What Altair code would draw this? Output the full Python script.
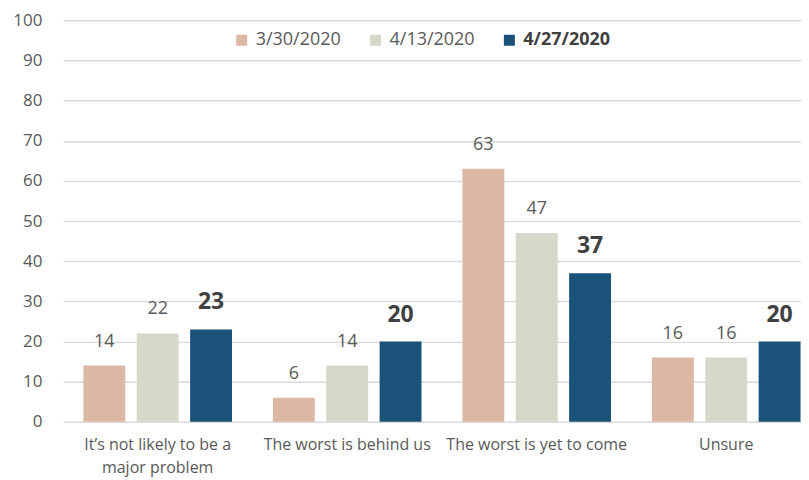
import altair as alt
import pandas as pd

categories = [
    "It’s not likely to be a major problem",
    "The worst is behind us",
    "The worst is yet to come",
    "Unsure",
]
series_names = ["3/30/2020", "4/13/2020", "4/27/2020"]
s_0330 = [14, 6, 63, 16]
s_0413 = [22, 14, 47, 16]
s_0427 = [23, 20, 37, 20]
colors = ["#DDB8A5", "#D7D8CA", "#1B5279"]
y_ticks = list(range(0, 101, 10))

rows = []
for name, vals in zip(series_names, [s_0330, s_0413, s_0427]):
    for c, v in zip(categories, vals):
        rows.append({"category": c, "series": name, "value": v})
df = pd.DataFrame(rows)

FONT = "Open Sans"
GRAY = "#595959"
DARK = "#404040"

x_enc = alt.X(
    "category:N",
    sort=categories,
    scale=alt.Scale(range=[2, 761], paddingInner=0, paddingOuter=0),
    axis=alt.Axis(
        title=None,
        labelAngle=0,
        domain=False,
        ticks=False,
        tickSize=0,
        grid=False,
        labelFont=FONT,
        labelFontSize=16,
        labelColor=GRAY,
        labelPadding=15,
        labelLineHeight=23,
        labelBaseline="top",
        labelLimit=400,
        labelExpr="datum.label == 'It’s not likely to be a major problem' ? ['It’s not likely to be a', 'major problem'] : datum.label",
    ),
)
xoff_enc = alt.XOffset(
    "series:N",
    sort=series_names,
    scale=alt.Scale(paddingInner=0.215, paddingOuter=0.383),
)
y_enc = alt.Y(
    "value:Q",
    scale=alt.Scale(domain=[0, 100]),
    axis=alt.Axis(
        title=None,
        values=y_ticks,
        domain=False,
        ticks=False,
        tickSize=0,
        grid=True,
        gridColor="#D9D9D9",
        gridWidth=1.5,
        labelFont=FONT,
        labelFontSize=17,
        labelColor=GRAY,
        labelPadding=19,
    ),
)

bars = alt.Chart(df).mark_bar().encode(
    x=x_enc,
    xOffset=xoff_enc,
    y=y_enc,
    color=alt.Color(
        "series:N",
        sort=series_names,
        scale=alt.Scale(domain=series_names, range=colors),
        legend=alt.Legend(
            title=None,
            orient="none",
            direction="horizontal",
            legendX=172,
            legendY=11,
            padding=0,
            symbolType="square",
            symbolSize=121,
            symbolStrokeWidth=0,
            symbolOpacity=1,
            labelFont=FONT,
            labelFontSize=18,
            labelColor=alt.ExprRef(expr="datum.label == '4/27/2020' ? '#404040' : '#595959'"),
            labelFontWeight=alt.ExprRef(expr="datum.label == '4/27/2020' ? 'bold' : 'normal'"),
            labelOffset=5,
            columnPadding=25,
        ),
    ),
)

labels_normal = alt.Chart(df).transform_filter(
    alt.datum.series != "4/27/2020"
).mark_text(
    font=FONT, fontSize=18, color=GRAY, baseline="middle", dy=-24
).encode(
    x=alt.X("category:N", sort=categories),
    xOffset=alt.XOffset("series:N", sort=series_names),
    y="value:Q",
    text="value:Q",
)

labels_bold = alt.Chart(df).transform_filter(
    alt.datum.series == "4/27/2020"
).mark_text(
    font=FONT, fontSize=23, fontWeight="bold", color=DARK, baseline="middle", dy=-27
).encode(
    x=alt.X("category:N", sort=categories),
    xOffset=alt.XOffset("series:N", sort=series_names),
    y="value:Q",
    text="value:Q",
)

chart = alt.layer(bars, labels_normal, labels_bold).properties(
    width=741,
    height=402,
    autosize=alt.AutoSizeParams(type="none"),
    padding={"left": 53, "top": 12, "right": 0, "bottom": 55},
).configure(
    background="white",
    view=alt.ViewConfig(stroke=None),
)

chart.save("out.html", embed_options={"renderer": "svg", "actions": False})
